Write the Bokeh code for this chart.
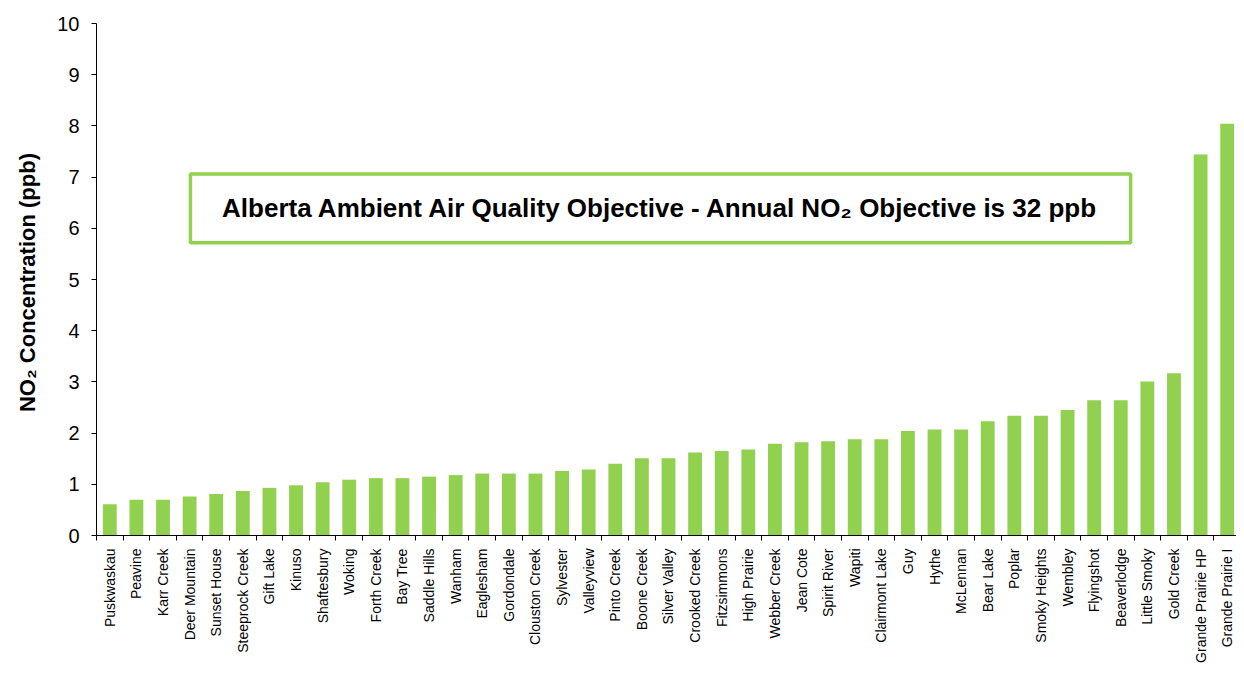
import math
from bokeh.plotting import figure
from bokeh.models import Range1d, FixedTicker, BoxAnnotation, Label
from bokeh.embed import file_html
from bokeh.resources import INLINE

stations = ["Puskwaskau", "Peavine", "Karr Creek", "Deer Mountain", "Sunset House",
            "Steeprock Creek", "Gift Lake", "Kinuso", "Shaftesbury", "Woking",
            "Forth Creek", "Bay Tree", "Saddle Hills", "Wanham", "Eaglesham",
            "Gordondale", "Clouston Creek", "Sylvester", "Valleyview", "Pinto Creek",
            "Boone Creek", "Silver Valley", "Crooked Creek", "Fitzsimmons", "High Prairie",
            "Webber Creek", "Jean Cote", "Spirit River", "Wapiti", "Clairmont Lake",
            "Guy", "Hythe", "McLennan", "Bear Lake", "Poplar",
            "Smoky Heights", "Wembley", "Flyingshot", "Beaverlodge", "Little Smoky",
            "Gold Creek", "Grande Prairie HP", "Grande Prairie I"]
no2_ppb = [0.61, 0.70, 0.70, 0.76, 0.81,
           0.87, 0.93, 0.98, 1.04, 1.09,
           1.12, 1.12, 1.15, 1.18, 1.21,
           1.21, 1.21, 1.26, 1.29, 1.40,
           1.51, 1.51, 1.62, 1.65, 1.68,
           1.79, 1.82, 1.84, 1.88, 1.88,
           2.04, 2.07, 2.07, 2.23, 2.34,
           2.34, 2.45, 2.64, 2.64, 3.01,
           3.17, 7.44, 8.04]
y_ticks = [0, 1, 2, 3, 4, 5, 6, 7, 8, 9, 10]
note_text = "Alberta Ambient Air Quality Objective - Annual NO\u2082 Objective is 32 ppb"
y_title = "NO\u2082 Concentration  (ppb)"

GREEN = "#92D050"
FONT = "Liberation Sans"

xs = list(range(len(stations)))

p = figure(width=1236, height=681, output_backend="svg", toolbar_location=None,
           x_range=Range1d(-0.5, 42.35), y_range=Range1d(0, 10),
           min_border_left=96, min_border_right=0, min_border_top=23, min_border_bottom=146)
p.outline_line_color = None
p.xgrid.grid_line_color = None
p.ygrid.grid_line_color = None
p.background_fill_color = "white"
p.border_fill_color = "white"

p.vbar(x=xs, top=no2_ppb, width=0.52, fill_color=GREEN, line_color=None)

# y axis
p.yaxis.ticker = FixedTicker(ticks=y_ticks)
p.yaxis.minor_tick_line_color = None
p.yaxis.major_tick_in = 0
p.yaxis.major_tick_out = 5
p.yaxis.axis_line_color = "black"
p.yaxis.major_tick_line_color = "black"
p.yaxis.major_label_text_font = FONT
p.yaxis.major_label_text_font_size = "20px"
p.yaxis.major_label_text_color = "black"
p.yaxis.major_label_standoff = 12
p.yaxis.axis_label = y_title
p.yaxis.axis_label_text_font = FONT
p.yaxis.axis_label_text_font_size = "22px"
p.yaxis.axis_label_text_font_style = "bold"
p.yaxis.axis_label_text_color = "black"
p.yaxis.axis_label_standoff = 14

# x axis
boundaries = [i - 0.5 for i in range(len(stations) + 1)]
p.xaxis.ticker = FixedTicker(ticks=xs, minor_ticks=boundaries)
p.xaxis.major_label_overrides = {i: s for i, s in zip(xs, stations)}
p.xaxis.major_tick_in = 0
p.xaxis.major_tick_out = 0
p.xaxis.minor_tick_in = 0
p.xaxis.minor_tick_out = 5
p.xaxis.minor_tick_line_color = "black"
p.xaxis.axis_line_color = "black"
p.xaxis.major_label_orientation = math.pi / 2
p.xaxis.major_label_text_font = FONT
p.xaxis.major_label_text_font_size = "14px"
p.xaxis.major_label_text_color = "black"
p.xaxis.major_label_standoff = 8

# objective note box
box = BoxAnnotation(left=3.03, right=38.37, bottom=5.72, top=7.06,
                    fill_color="white", fill_alpha=1.0,
                    line_color=GREEN, line_width=3.5, line_alpha=1.0)
p.add_layout(box)
note = Label(x=20.7, y=6.40, text=note_text, text_align="center", text_baseline="middle",
             text_font=FONT, text_font_size="26px", text_font_style="bold", text_color="black")
p.add_layout(note)

open("out.html", "w").write(file_html(p, INLINE))
